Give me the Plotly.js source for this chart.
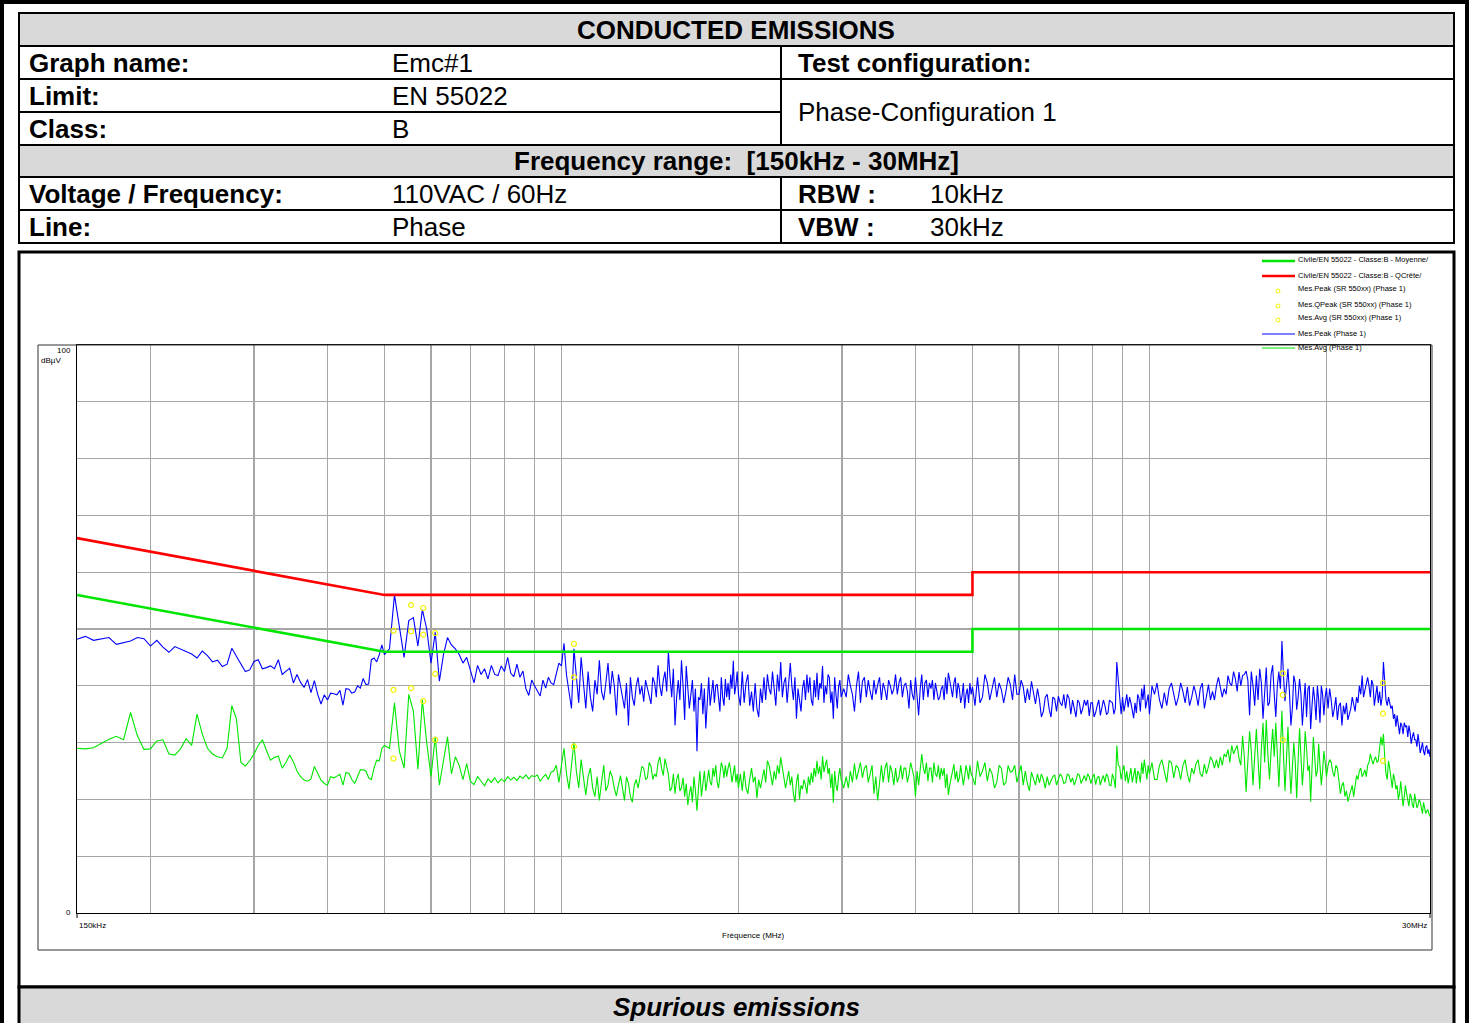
<!DOCTYPE html>
<html><head><meta charset="utf-8">
<script src="https://cdn.plot.ly/plotly-3.0.1.min.js"></script>
<style>html,body{margin:0;padding:0;background:#fff;overflow:hidden}</style>
</head><body><div id="chart" style="width:1472px;height:1023px"></div>
<script>
// ---------------- DATA (frequency in MHz, level in dBµV) ----------------
// Segment A: 150 kHz - 500 kHz
const segAFreq = [
0.150,0.155,0.160,0.165,0.170,0.175,0.180,0.185,0.190,0.195,
0.200,0.205,0.210,0.215,0.220,0.225,0.230,0.235,0.240,0.245,
0.250,0.255,0.260,0.265,0.270,0.275,0.280,0.285,0.290,0.295,
0.300,0.305,0.310,0.315,0.320,0.325,0.330,0.335,0.340,0.345,
0.350,0.355,0.360,0.365,0.370,0.375,0.380,0.385,0.390,0.395,
0.400,0.405,0.410,0.415,0.420,0.425,0.430,0.435,0.440,0.445,
0.450,0.455,0.460,0.465,0.470,0.475,0.480,0.485,0.490,0.495];
const segAPeak = [
48.2,48.7,48.0,48.2,48.5,47.3,47.6,47.9,48.5,48.3,
47.0,48.0,46.8,45.9,46.9,46.5,46.0,45.6,44.9,46.1,
45.3,44.2,44.5,43.4,43.8,46.6,45.2,43.8,42.5,42.8,
44.3,44.6,43.0,43.2,43.5,43.0,44.6,42.0,42.6,43.1,
40.5,42.0,40.6,39.7,41.1,38.8,40.9,38.5,36.8,38.4,
37.5,38.7,38.6,38.4,39.2,36.6,39.5,39.4,38.7,38.9,
40.0,39.6,41.3,40.2,40.3,44.6,44.9,44.2,45.5,47.2];
const segAAvg = [
29.0,28.9,29.1,29.8,30.6,31.1,30.5,35.3,31.2,28.8,
28.9,30.3,30.5,28.0,27.8,28.9,30.7,29.5,35.0,31.5,
29.0,28.0,27.5,27.3,29.0,36.5,34.2,26.5,25.9,26.8,
28.0,29.5,30.5,28.6,26.9,27.4,27.6,25.5,26.5,27.8,
26.6,25.0,24.0,23.4,23.2,23.6,25.8,24.6,23.4,22.8,
22.5,24.0,23.8,24.1,24.4,22.5,24.7,24.6,23.5,22.8,
24.0,25.2,25.2,25.0,23.8,23.5,25.5,26.9,26.8,29.0];

// Segment B: 500 kHz - 1 MHz
const segBFreq = [
0.50,0.51,0.52,0.53,0.54,0.55,0.56,0.57,0.58,0.59,
0.60,0.61,0.62,0.63,0.64,0.65,0.66,0.67,0.68,0.69,
0.70,0.71,0.72,0.73,0.74,0.75,0.76,0.77,0.78,0.79,
0.80,0.81,0.82,0.83,0.84,0.85,0.86,0.87,0.88,0.89,
0.90,0.91,0.92,0.93,0.94,0.95,0.96,0.97,0.98,0.99];
const segBPeak = [
45.5,46.5,56.0,50.3,45.0,51.5,52.0,47.0,53.4,50.0,
44.0,49.4,40.8,45.5,48.5,47.2,46.5,45.5,44.0,45.0,
42.5,40.5,43.6,42.0,43.0,41.2,43.6,42.0,41.8,43.5,
42.5,45.0,42.2,41.6,43.8,41.5,42.6,39.5,38.3,41.0,
40.0,39.0,38.2,41.0,39.6,41.5,40.5,40.2,42.0,44.0];
const segBAvg = [
29.5,29.0,37.0,28.5,25.5,38.5,35.5,25.3,37.5,30.0,
24.0,31.0,22.5,27.0,31.0,24.5,27.5,26.0,23.5,26.3,
23.2,22.6,24.0,23.2,22.4,23.6,23.0,23.8,22.9,23.6,
23.1,24.0,23.4,23.9,23.3,24.1,23.7,24.3,23.6,24.2,
24.0,24.3,23.2,23.9,24.4,23.5,24.8,25.0,26.0,23.0];

// Segment C1: 1 MHz - 2 MHz
const segC1Freq = [
1.00,1.01,1.02,1.03,1.04,1.05,1.06,1.07,1.08,1.09,
1.10,1.11,1.12,1.13,1.14,1.15,1.16,1.17,1.18,1.19,
1.20,1.21,1.22,1.23,1.24,1.25,1.26,1.27,1.28,1.29,
1.30,1.31,1.32,1.33,1.34,1.35,1.36,1.37,1.38,1.39,
1.40,1.41,1.42,1.43,1.44,1.45,1.46,1.47,1.48,1.49,
1.50,1.51,1.52,1.53,1.54,1.55,1.56,1.57,1.58,1.59,
1.60,1.61,1.62,1.63,1.64,1.65,1.66,1.67,1.68,1.69,
1.70,1.71,1.72,1.73,1.74,1.75,1.76,1.77,1.78,1.79,
1.80,1.81,1.82,1.83,1.84,1.85,1.86,1.87,1.88,1.89,
1.90,1.91,1.92,1.93,1.94,1.95,1.96,1.97,1.98,1.99,2.00];
const segC1Peak = [
43.5,47.5,41.9,39.0,36.0,46.5,41.0,37.0,45.0,41.0,
36.0,42.5,38.0,35.5,41.0,38.5,44.5,39.0,37.5,40.5,
44.0,38.5,42.6,40.0,34.8,42.0,39.8,37.5,36.0,40.5,
33.0,41.5,38.0,36.5,40.0,41.5,38.5,40.0,37.2,41.0,
39.5,38.0,36.8,41.5,40.5,38.0,43.6,40.0,38.2,41.0,
42.5,39.0,46.0,41.5,38.0,43.0,33.0,38.0,41.0,37.5,
44.5,40.0,34.0,43.5,40.0,36.0,38.5,41.0,35.5,39.5,
28.5,38.0,37.5,40.5,35.0,39.5,32.5,37.0,41.5,36.5,
38.5,41.0,37.0,40.0,40.3,38.0,35.5,41.5,38.0,36.5,
41.2,38.0,40.5,37.5,42.0,39.5,44.4,38.5,40.0,42.5,38.5];
const segC1Avg = [
25.9,29.0,24.5,21.8,26.0,30.0,25.0,22.0,27.0,23.5,
20.8,24.0,25.5,22.0,20.5,24.0,19.8,23.0,26.0,21.5,
22.5,25.0,24.0,22.0,20.6,22.5,24.2,22.0,19.8,24.0,
22.8,20.5,19.5,22.5,23.5,22.0,24.0,25.8,25.5,23.5,
23.8,26.5,25.8,23.5,24.5,24.0,26.5,27.5,25.5,24.2,
27.2,26.0,24.4,21.5,22.0,24.5,21.0,23.5,24.5,21.5,
22.0,23.8,20.5,22.8,19.0,21.0,22.3,19.5,24.0,21.5,
18.0,22.0,25.0,20.5,23.5,25.0,21.5,23.0,25.2,23.0,
22.5,25.5,24.0,26.0,23.0,22.0,24.5,26.5,25.7,23.8,
26.0,24.0,25.5,26.5,25.0,23.0,24.5,26.0,23.0,24.5,22.0];

// Segment C2: 2 MHz - 3 MHz
const segC2Freq = [
2.015,2.030,2.045,2.060,2.075,2.090,2.105,2.120,2.135,2.150,
2.165,2.180,2.195,2.210,2.225,2.240,2.255,2.270,2.285,2.300,
2.315,2.330,2.345,2.360,2.375,2.390,2.405,2.420,2.435,2.450,
2.465,2.480,2.495,2.510,2.525,2.540,2.555,2.570,2.585,2.600,
2.615,2.630,2.645,2.660,2.675,2.690,2.705,2.720,2.735,2.750,
2.765,2.780,2.795,2.810,2.825,2.840,2.855,2.870,2.885,2.900,
2.915,2.930,2.945,2.960,2.975,2.990,3.020];
const segC2Peak = [
36.5,42.5,37.0,40.5,42.0,36.5,39.0,35.5,40.5,36.0,
34.5,39.5,37.0,41.5,37.5,42.0,39.5,38.5,42.5,39.5,
36.5,42.0,39.0,44.2,38.0,40.5,41.5,37.0,40.5,44.0,
40.0,37.5,41.5,34.2,39.5,37.0,35.5,39.5,41.0,37.5,
42.0,38.8,41.5,37.5,36.5,41.0,38.0,42.3,37.5,40.5,
39.5,43.5,37.0,40.0,38.5,42.0,41.5,37.0,39.0,34.2,
41.5,38.5,36.0,39.8,41.0,38.0,39.5];
const segC2Avg = [
24.5,21.5,25.0,22.0,21.0,23.6,25.5,23.0,24.0,20.2,
23.5,22.0,24.0,25.3,23.0,26.8,26.0,24.5,22.5,25.0,
23.5,26.0,24.5,27.4,25.5,24.0,22.0,23.5,25.0,22.5,
24.0,21.0,19.5,23.0,24.5,20.0,22.5,21.8,23.5,22.5,
21.0,24.0,22.5,24.7,23.0,25.5,24.0,26.8,24.5,25.8,
23.5,27.6,24.8,26.0,27.0,24.5,25.5,22.0,24.5,19.4,
25.0,22.5,21.5,24.0,25.5,23.5,22.0];

// Segment C3: 3 MHz - 5 MHz
const segC3Freq = [
3.050,3.075,3.100,3.125,3.150,3.175,3.200,3.225,3.250,3.275,
3.300,3.325,3.350,3.375,3.400,3.425,3.450,3.475,3.500,3.525,
3.550,3.575,3.600,3.625,3.650,3.675,3.700,3.725,3.750,3.775,
3.800,3.825,3.850,3.875,3.900,3.925,3.950,3.975,4.000,4.025,
4.050,4.075,4.100,4.125,4.150,4.175,4.200,4.225,4.250,4.275,
4.300,4.325,4.350,4.375,4.400,4.425,4.450,4.475,4.500,4.525,
4.550,4.575,4.600,4.625,4.650,4.675,4.700,4.725,4.750,4.775,
4.800,4.825,4.850,4.875,4.900,4.925,4.950,4.975];
const segC3Peak = [
38.0,42.0,40.0,38.5,35.5,40.0,42.5,37.0,40.8,41.5,
38.0,41.0,39.0,37.5,41.0,38.5,40.2,41.5,37.5,40.5,
39.3,37.5,41.0,40.0,38.5,39.5,42.0,38.5,40.5,41.5,
38.0,40.0,40.5,39.0,36.0,41.0,38.5,37.5,41.5,38.5,
34.8,39.5,42.0,37.5,40.5,41.0,38.0,40.5,39.5,41.0,
37.5,40.5,38.7,37.5,38.0,39.5,40.0,37.5,41.5,38.5,
42.3,40.5,39.5,38.0,40.5,41.5,37.8,40.5,39.5,37.0,
38.2,40.5,36.0,38.5,39.5,37.0,40.5,38.5];
const segC3Avg = [
24.0,22.0,25.0,23.0,26.3,23.5,25.0,26.5,23.8,25.5,
26.0,23.0,24.5,26.0,21.0,24.0,19.8,23.5,26.0,23.0,
25.5,26.5,23.0,26.0,24.8,22.5,25.5,23.0,24.0,26.0,
23.5,25.5,25.5,23.0,24.3,26.5,25.0,24.0,20.5,25.0,
22.5,26.0,28.0,25.5,24.5,26.5,23.2,25.5,25.5,23.0,
26.5,24.5,24.0,26.0,23.5,25.5,24.2,25.5,22.0,24.5,
20.8,22.5,24.0,25.0,26.2,23.5,25.0,23.0,23.8,26.0,
24.5,22.5,24.0,26.0,25.0,23.5,26.0,24.5];

// Segment D1: 5 MHz - 10 MHz
const segD1Freq = [
5.00,5.05,5.10,5.15,5.20,5.25,5.30,5.35,5.40,5.45,
5.50,5.55,5.60,5.65,5.70,5.75,5.80,5.85,5.90,5.95,
6.00,6.05,6.10,6.15,6.20,6.25,6.30,6.35,6.40,6.45,
6.50,6.55,6.60,6.65,6.70,6.75,6.80,6.85,6.90,6.95,
7.00,7.05,7.10,7.15,7.20,7.25,7.30,7.35,7.40,7.45,
7.50,7.55,7.60,7.65,7.70,7.75,7.80,7.85,7.90,7.95,
8.00,8.05,8.10,8.15,8.20,8.25,8.30,8.35,8.40,8.45,
8.50,8.55,8.60,8.65,8.70,8.75,8.80,8.85,8.90,8.95,
9.00,9.05,9.10,9.15,9.20,9.25,9.30,9.35,9.40,9.45,
9.50,9.55,9.60,9.65,9.70,9.75,9.80,9.85,9.90,9.95,10.00];
const segD1Peak = [
39.8,36.5,41.5,37.0,38.0,42.0,40.5,37.5,39.5,41.5,
38.0,40.5,39.3,37.0,39.0,41.5,40.2,37.5,42.0,38.5,
38.5,41.0,39.8,37.0,39.5,37.5,40.8,38.5,36.8,39.5,
37.5,34.5,35.5,38.0,38.5,36.0,34.5,38.0,37.7,35.5,
38.2,37.0,36.5,38.5,36.0,38.5,37.8,35.0,37.5,36.0,
34.5,37.5,37.0,35.0,36.0,37.5,36.5,37.5,34.7,37.0,
37.0,34.5,35.3,36.5,37.5,34.8,36.2,37.5,36.5,35.0,
35.2,37.5,37.2,37.0,35.0,36.0,44.2,41.0,36.5,35.0,
38.0,35.5,37.0,38.5,36.2,38.0,37.0,35.5,34.3,37.0,
35.2,38.5,37.8,35.5,39.5,37.5,40.2,36.0,37.5,38.5,35.0];
const segD1Avg = [
24.0,22.5,26.8,24.0,25.0,26.5,23.2,25.5,24.5,22.0,
23.0,26.0,25.5,22.5,23.0,26.0,24.8,25.0,26.0,23.0,
24.5,26.0,22.5,25.0,22.8,21.5,24.8,23.5,22.5,24.5,
22.9,24.5,23.5,22.0,24.0,22.5,23.2,24.0,24.3,22.5,
23.5,24.5,24.0,22.8,23.0,24.5,24.2,23.0,23.8,22.5,
23.4,24.5,24.3,22.8,23.5,24.2,23.2,24.5,24.0,22.8,
23.8,24.5,22.6,23.8,24.1,22.5,23.5,24.2,23.0,24.5,
24.0,22.5,22.4,24.5,23.6,22.0,29.5,26.0,25.8,23.5,
25.0,26.0,23.2,25.0,22.8,24.5,25.5,23.0,24.0,25.5,
22.8,25.0,24.5,23.0,26.5,24.5,27.0,25.0,23.5,26.0,24.5];

// Segment D2: 10 MHz - 20 MHz
const segD2Freq = [
10.1,10.2,10.3,10.4,10.5,10.6,10.7,10.8,10.9,11.0,
11.1,11.2,11.3,11.4,11.5,11.6,11.7,11.8,11.9,12.0,
12.1,12.2,12.3,12.4,12.5,12.6,12.7,12.8,12.9,13.0,
13.1,13.2,13.3,13.4,13.5,13.6,13.7,13.8,13.9,14.0,
14.1,14.2,14.3,14.4,14.5,14.6,14.7,14.8,14.9,15.0,
15.1,15.2,15.3,15.4,15.5,15.6,15.7,15.8,15.9,16.0,
16.1,16.2,16.3,16.4,16.5,16.6,16.7,16.8,16.9,17.0,
17.1,17.2,17.3,17.4,17.5,17.6,17.7,17.8,17.9,18.0,
18.1,18.2,18.3,18.4,18.5,18.6,18.7,18.8,18.9,19.0,
19.1,19.2,19.3,19.4,19.5,19.6,19.7,19.8,19.9,20.0];
const segD2Peak = [
40.0,38.5,40.5,37.5,36.0,38.8,36.5,39.5,40.5,38.5,
36.5,38.0,40.5,39.0,37.0,39.8,36.5,38.0,40.0,38.6,
36.5,39.5,40.5,36.0,38.5,40.2,37.5,39.0,37.5,40.0,
41.5,40.0,38.0,39.5,38.5,41.8,40.5,40.0,42.5,41.2,
39.0,42.4,40.0,41.8,42.0,42.6,41.0,34.8,42.5,40.0,
36.5,41.8,37.5,43.0,40.5,34.2,40.0,43.2,36.5,37.0,
42.0,43.6,38.5,34.5,40.0,42.5,39.5,47.9,42.0,37.3,
40.0,43.0,39.0,33.0,36.0,41.8,40.5,35.8,38.0,41.2,
38.5,33.0,37.0,40.5,34.5,39.5,40.0,32.4,36.5,39.8,
37.5,34.0,40.0,37.5,33.5,40.0,38.5,34.8,38.0,39.6];
const segD2Avg = [
26.5,23.5,23.5,26.0,27.0,24.8,23.0,26.8,26.5,23.8,
26.0,25.5,23.5,26.0,27.0,24.5,23.0,25.5,24.5,26.3,
27.0,24.5,24.0,26.2,24.5,25.8,27.5,26.8,25.5,27.0,
25.5,27.5,26.0,28.0,27.5,28.8,26.5,29.5,28.0,28.8,
29.5,27.2,26.0,31.2,27.5,21.3,26.0,32.0,28.5,22.5,
27.5,32.4,27.0,21.8,29.0,33.5,26.5,34.0,28.0,23.5,
28.5,32.4,27.5,33.5,28.0,22.2,29.0,35.6,28.0,21.5,
27.0,32.8,26.5,21.0,25.5,30.0,26.5,20.2,27.0,32.5,
27.5,22.5,26.0,32.0,29.0,25.0,26.0,19.6,25.5,31.0,
27.5,24.0,25.0,29.8,26.0,22.5,25.0,28.5,26.5,24.0];

// Segment D3: 20 MHz - 30 MHz
const segD3Freq = [
20.125,20.250,20.375,20.500,20.625,20.750,20.875,21.000,
21.125,21.250,21.375,21.500,21.625,21.750,21.875,22.000,
22.125,22.250,22.375,22.500,22.625,22.750,22.875,23.000,
23.125,23.250,23.375,23.500,23.625,23.750,23.875,24.000,
24.125,24.250,24.375,24.500,24.625,24.750,24.875,25.000,
25.125,25.250,25.375,25.500,25.625,25.750,25.875,26.000,
26.125,26.250,26.375,26.500,26.625,26.750,26.875,27.000,
27.125,27.250,27.375,27.500,27.625,27.750,27.875,28.000,
28.125,28.250,28.375,28.500,28.625,28.750,28.875,29.000,
29.125,29.250,29.375,29.500,29.625,29.750,29.875,30.000];
const segD3Peak = [
36.0,39.5,37.5,34.5,36.0,38.0,34.0,36.5,
37.0,33.0,36.5,35.0,37.0,34.0,35.0,36.0,
38.0,36.5,35.5,38.0,37.0,40.0,38.5,41.8,
38.0,39.2,40.5,41.5,40.0,38.0,41.0,40.2,
36.5,38.5,40.0,37.0,39.0,36.5,38.0,44.2,
40.5,37.5,36.5,38.0,37.0,36.0,36.5,34.2,
35.0,32.8,34.8,33.0,31.5,33.5,33.0,31.5,
33.5,32.8,33.0,31.0,33.0,31.8,29.8,31.0,
31.8,30.5,30.5,29.3,31.5,30.0,28.2,29.0,
30.0,28.5,27.8,29.2,29.5,28.0,28.8,27.5];
const segD3Avg = [
26.0,27.0,26.5,24.8,24.0,26.0,25.5,23.5,
21.0,22.5,23.0,20.5,21.5,19.6,20.5,21.5,
22.5,20.5,23.0,24.2,23.5,25.0,25.5,24.0,
24.5,25.2,24.0,26.0,26.5,28.0,27.0,26.2,
27.0,27.5,26.5,26.8,29.0,31.0,29.5,31.5,
27.5,24.5,23.5,26.8,25.5,23.0,22.0,24.5,
23.5,21.8,22.5,20.0,21.0,23.2,21.5,18.8,
20.5,22.5,21.0,19.5,18.8,21.0,20.5,19.0,
18.5,21.0,20.0,18.5,19.0,20.0,19.5,18.0,
17.5,19.5,18.5,17.5,18.0,18.2,17.5,17.0];

const segFreqs = [segAFreq, segBFreq, segC1Freq, segC2Freq, segC3Freq, segD1Freq, segD2Freq, segD3Freq];
const segPeaks = [segAPeak, segBPeak, segC1Peak, segC2Peak, segC3Peak, segD1Peak, segD2Peak, segD3Peak];
const segAvgs  = [segAAvg, segBAvg, segC1Avg, segC2Avg, segC3Avg, segD1Avg, segD2Avg, segD3Avg];
const freqMHz  = [].concat(...segFreqs);
const peakDbuv = [].concat(...segPeaks);
const avgDbuv  = [].concat(...segAvgs);

// EN 55022 class B limits
const limitFreq   = [0.15, 0.5, 5, 5, 30];
const limitQpDb   = [66, 56, 56, 60, 60];
const limitAvgDb  = [56, 46, 46, 50, 50];

// Final measurements (SR 550xx)
const measFreq  = [0.518, 0.555, 0.582, 0.610, 1.050, 16.85, 24.96];
const measPeak  = [49.7, 54.2, 53.7, 49.3, 47.4, 42.2, 40.5];
const measQPeak = [39.3, 49.6, 49.0, 42.1, 41.5, 38.4, 35.1];
const measAvg   = [27.2, 39.6, 37.3, 30.5, 29.3, 30.5, 26.8];

const gridFreqs = [0.2,0.3,0.4,0.5,0.6,0.7,0.8,0.9,1,2,3,4,5,6,7,8,9,10,20,30];
const gridDb = [0,10,20,30,40,50,60,70,80,90,100];

const legendLabels = [
  "Civile/EN 55022 - Classe:B - Moyenne/",
  "Civile/EN 55022 - Classe:B - QCrête/",
  "Mes.Peak (SR 550xx) (Phase 1)",
  "Mes.QPeak (SR 550xx) (Phase 1)",
  "Mes.Avg (SR 550xx) (Phase 1)",
  "Mes.Peak (Phase 1)",
  "Mes.Avg (Phase 1)"
];

const tableLeft = ["Graph name:", "Limit:", "Class:"];
const tableLeftVal = ["Emc#1", "EN 55022", "B"];
const tableTitle = "CONDUCTED EMISSIONS";
const freqRangeText = "Frequency range:  [150kHz - 30MHz]";

// ---------------- LAYOUT HELPERS ----------------
const W = 1472, H = 1023, PL = 77, PR = 1430, PT = 345, PB = 913;
const px = x => (x - PL) / (PR - PL);
const py = y => (PB - y) / (PB - PT);
const FONT = "Liberation Sans, Arial, Helvetica, sans-serif";
const GRAY = "#d9d9d9";
const GREEN = "#00e600", RED = "#ff0000", BLUE = "#0000ff", YEL = "#f2f200";

const shapes = [];
const annotations = [];
function sLine(x0, y0, x1, y1, color, w) {
  shapes.push({type: "line", xref: "paper", yref: "paper", x0: px(x0), y0: py(y0), x1: px(x1), y1: py(y1),
    line: {color: color, width: w}});
}
function sRect(x0, y0, x1, y1, fill, color, w) {
  shapes.push({type: "rect", xref: "paper", yref: "paper", x0: px(x0), y0: py(y0), x1: px(x1), y1: py(y1),
    fillcolor: fill || "rgba(0,0,0,0)", line: {color: color || "rgba(0,0,0,0)", width: w || 0}});
}
function sCircle(cx, cy, r, color) {
  shapes.push({type: "circle", xref: "paper", yref: "paper", x0: px(cx - r), x1: px(cx + r), y0: py(cy + r), y1: py(cy - r),
    line: {color: color, width: 1}});
}
function txt(x, y, s, size, anchor, opts) {
  opts = opts || {};
  annotations.push({xref: "paper", yref: "paper", x: px(x), y: py(y), text: s, showarrow: false,
    xanchor: anchor || "left", yanchor: "middle", borderpad: 0,
    font: {family: FONT, size: size, color: opts.color || "#000"}});
}

// page frame
sRect(2, 2, 1467, 1060, null, "#000", 4);
// header table
sRect(19, 13, 1454, 46, GRAY);
sRect(19, 145, 1454, 177, GRAY);
sRect(19, 13, 1454, 243, null, "#000", 2);
sLine(19, 46, 1454, 46, "#000", 2);
sLine(19, 79, 1454, 79, "#000", 2);
sLine(19, 112, 781, 112, "#000", 2);
sLine(19, 145, 1454, 145, "#000", 2);
sLine(19, 177, 1454, 177, "#000", 2);
sLine(19, 210, 1454, 210, "#000", 2);
sLine(781, 46, 781, 145, "#000", 2);
sLine(781, 177, 781, 243, "#000", 2);
// chart box
sRect(19, 252, 1454, 987, null, "#000", 3);
// plot frame
sRect(38, 345, 1432, 950, null, "#333", 1);
// bottom bar
sRect(19, 987, 1454, 1060, GRAY, "#000", 3);
// axis end ticks
sLine(77, 913, 77, 918, "#000", 1);
sLine(1430, 913, 1430, 918, "#000", 1);

// table texts
const TF = 26;
txt(736, 30, "<b>" + tableTitle + "</b>", TF, "center");
const rowsY = [63, 96, 129];
for (let i = 0; i < 3; i++) {
  txt(28, rowsY[i], "<b>" + tableLeft[i] + "</b>", TF);
  txt(391, rowsY[i], tableLeftVal[i], TF);
}
txt(797, 63, "<b>Test configuration:</b>", TF);
txt(797, 112, "Phase-Configuration 1", TF);
txt(736, 161, "<b>" + freqRangeText + "</b>", TF, "center");
txt(28, 194, "<b>Voltage / Frequency:</b>", TF);
txt(391, 194, "110VAC / 60Hz", TF);
txt(797, 194, "<b>RBW :</b>", TF);
txt(929, 194, "10kHz", TF);
txt(28, 227, "<b>Line:</b>", TF);
txt(391, 227, "Phase", TF);
txt(797, 227, "<b>VBW :</b>", TF);
txt(929, 227, "30kHz", TF);
txt(736, 1007, "<b><i>Spurious emissions</i></b>", TF, "center");

// axis texts
txt(72, 350, "100", 8, "right");
txt(40, 360, "dBµV", 8, "left");
txt(72, 912, "0", 8, "right");
txt(78, 925, "150kHz", 8, "left");
txt(1428, 925, "30MHz", 8, "right");
txt(753, 935, "Fréquence (MHz)", 8, "center");

// legend
const legY = [261, 276, 290, 305, 319, 334, 348];
sLine(1262, legY[0], 1295, legY[0], GREEN, 2.5);
sLine(1262, legY[1], 1295, legY[1], RED, 2.5);
sCircle(1278, legY[2] + 1, 2, YEL);
sCircle(1278, legY[3] + 1, 2, YEL);
sCircle(1278, legY[4] + 1, 2, YEL);
sLine(1262, legY[5], 1295, legY[5], BLUE, 1);
sLine(1262, legY[6], 1295, legY[6], GREEN, 1);
for (let i = 0; i < legendLabels.length; i++) txt(1297, legY[i] - 1, legendLabels[i], 7.5, "left");

for (let i = 0; i < segFreqs.length; i++) {
  if (segFreqs[i].length !== segPeaks[i].length || segFreqs[i].length !== segAvgs[i].length) {
    txt(700, 450 + i * 30, "LEN MISMATCH seg " + i + ": " + segFreqs[i].length + " " + segPeaks[i].length + " " + segAvgs[i].length,
      24, "center", {color: "#f0f"});
  }
}

// ---------------- TRACES ----------------
const traces = [
  {x: freqMHz, y: avgDbuv, type: "scatter", mode: "lines", name: "Mes.Avg (Phase 1)",
   line: {color: GREEN, width: 1.1}},
  {x: freqMHz, y: peakDbuv, type: "scatter", mode: "lines", name: "Mes.Peak (Phase 1)",
   line: {color: BLUE, width: 1.1}},
  {x: limitFreq, y: limitAvgDb, type: "scatter", mode: "lines", name: "Moyenne",
   line: {color: GREEN, width: 2.6}},
  {x: limitFreq, y: limitQpDb, type: "scatter", mode: "lines", name: "QCrête",
   line: {color: RED, width: 2.6}},
  {x: measFreq, y: measPeak, type: "scatter", mode: "markers", name: "Mes.Peak (SR 550xx)",
   marker: {symbol: "circle-open", size: 5, color: YEL, line: {width: 1.2, color: YEL}}},
  {x: measFreq, y: measQPeak, type: "scatter", mode: "markers", name: "Mes.QPeak (SR 550xx)",
   marker: {symbol: "circle-open", size: 5, color: YEL, line: {width: 1.2, color: YEL}}},
  {x: measFreq, y: measAvg, type: "scatter", mode: "markers", name: "Mes.Avg (SR 550xx)",
   marker: {symbol: "circle-open", size: 5, color: YEL, line: {width: 1.2, color: YEL}}}
];

const layout = {
  width: W, height: H, autosize: false,
  margin: {l: PL, r: W - PR, t: PT, b: H - PB, pad: 0},
  paper_bgcolor: "#fff", plot_bgcolor: "#fff",
  showlegend: false,
  font: {family: FONT, size: 8, color: "#000"},
  xaxis: {type: "log", range: [Math.log10(0.15), Math.log10(30)], tickmode: "array", tickvals: gridFreqs,
    showticklabels: false, ticks: "", showgrid: true, gridcolor: "#a6a6a6", gridwidth: 1.3,
    showline: true, linecolor: "#000", linewidth: 1, mirror: true, zeroline: false, fixedrange: true},
  yaxis: {range: [0, 100], tickmode: "array", tickvals: gridDb, showticklabels: false, ticks: "",
    showgrid: true, gridcolor: "#a6a6a6", gridwidth: 1.3,
    showline: true, linecolor: "#000", linewidth: 1, mirror: true, zeroline: false, fixedrange: true},
  shapes: shapes,
  annotations: annotations
};

Plotly.newPlot("chart", traces, layout, {staticPlot: true, displayModeBar: false});
</script>
</body></html>
